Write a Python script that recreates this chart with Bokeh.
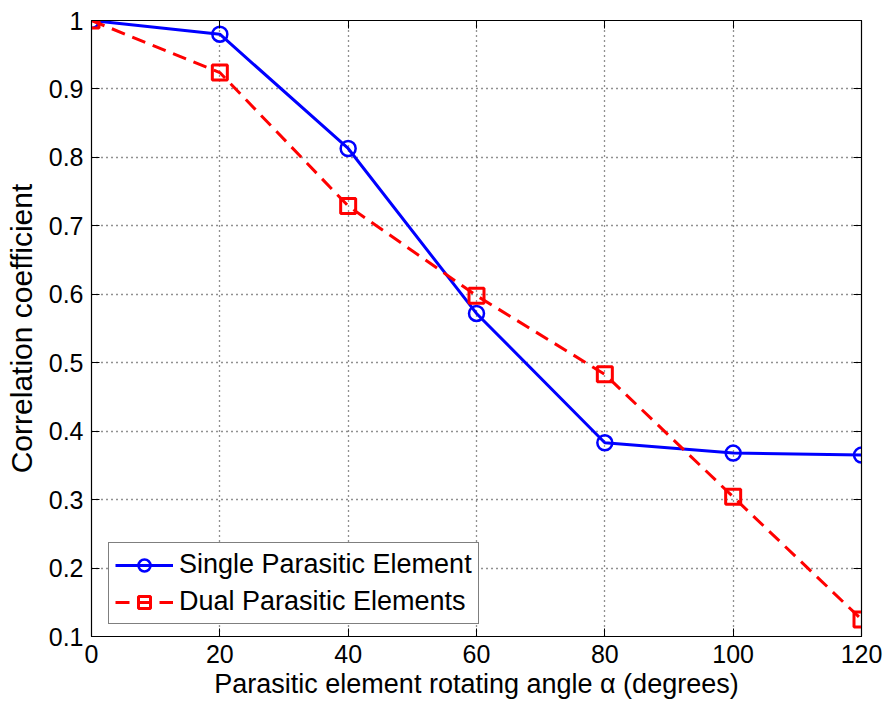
from bokeh.plotting import figure
from bokeh.models import (LinearAxis, FixedTicker, Legend, LegendItem,
                          CustomJSTickFormatter, Range1d)
from bokeh.embed import file_html
from bokeh.resources import INLINE

angles = [0, 20, 40, 60, 80, 100, 120]
single = [1.0, 0.980, 0.813, 0.572, 0.383, 0.368, 0.365]
dual = [1.0, 0.924, 0.729, 0.598, 0.483, 0.304, 0.125]
x_ticks = [0, 20, 40, 60, 80, 100, 120]
y_ticks = [0.1, 0.2, 0.3, 0.4, 0.5, 0.6, 0.7, 0.8, 0.9, 1.0]

FONT = "Liberation Sans"
FS = "25px"

p = figure(width=887, height=707, output_backend="svg", toolbar_location=None,
           x_range=Range1d(0, 120), y_range=Range1d(0.1, 1.0),
           min_border_left=91, min_border_right=26, min_border_top=20,
           min_border_bottom=71, background_fill_color="white",
           border_fill_color="white")

p.outline_line_color = "black"
p.outline_line_width = 1.2

for ax in (p.xaxis[0], p.yaxis[0]):
    ax.major_tick_in = 8
    ax.major_tick_out = 0
    ax.minor_tick_in = 0
    ax.minor_tick_out = 0
    ax.axis_line_color = "black"
    ax.major_tick_line_color = "black"
    ax.major_label_text_font = FONT
    ax.major_label_text_font_size = FS
    ax.major_label_text_color = "black"
    ax.axis_label_text_font = FONT
    ax.axis_label_text_font_style = "normal"
    ax.axis_label_text_color = "black"

p.xaxis[0].axis_label_text_font_size = "27px"
p.yaxis[0].axis_label_text_font_size = "30px"
p.xaxis[0].ticker = FixedTicker(ticks=x_ticks)
p.yaxis[0].ticker = FixedTicker(ticks=y_ticks)
p.yaxis[0].formatter = CustomJSTickFormatter(
    code="var s = tick.toFixed(1); return s == '1.0' ? '1' : s;")
p.xaxis[0].major_label_standoff = 8
p.yaxis[0].major_label_standoff = 8
p.xaxis[0].axis_label = "Parasitic element rotating angle \u03b1 (degrees)"
p.yaxis[0].axis_label = "Correlation coefficient"
p.xaxis[0].axis_label_standoff = 3
p.yaxis[0].axis_label_standoff = 8

right = LinearAxis(ticker=FixedTicker(ticks=y_ticks), major_tick_in=8,
                   major_tick_out=0, minor_tick_in=0, minor_tick_out=0,
                   major_label_text_color=None, axis_line_color="black")
top = LinearAxis(ticker=FixedTicker(ticks=x_ticks), major_tick_in=8,
                 major_tick_out=0, minor_tick_in=0, minor_tick_out=0,
                 major_label_text_color=None, axis_line_color="black")
p.add_layout(right, "right")
p.add_layout(top, "above")

p.xgrid.ticker = FixedTicker(ticks=x_ticks)
p.ygrid.ticker = FixedTicker(ticks=y_ticks)
for g in (p.xgrid[0], p.ygrid[0]):
    g.grid_line_color = "#222222"
    g.grid_line_dash = "1 4"
    g.grid_line_width = 1.3

l1 = p.line(angles, single, line_color="blue", line_width=3)
m1 = p.scatter(angles, single, marker="circle", size=15, fill_color=None,
               line_color="blue", line_width=2.5)
l2 = p.line(angles, dual, line_color="red", line_width=3, line_dash="14 8")
m2 = p.scatter(angles, dual, marker="square", size=15, fill_color=None,
               line_color="red", line_width=3)

legend = Legend(items=[
    LegendItem(label="Single Parasitic Element", renderers=[l1, m1]),
    LegendItem(label="Dual Parasitic Elements", renderers=[l2, m2]),
], location=(17, 12))
legend.label_text_font = FONT
legend.label_text_font_size = "27px"
legend.label_text_color = "black"
legend.glyph_width = 58
legend.glyph_height = 30
legend.label_height = 30
legend.spacing = 6
legend.padding = 6
legend.margin = 0
legend.label_standoff = 6
legend.border_line_color = "black"
legend.border_line_width = 1.2
legend.background_fill_color = "white"
legend.background_fill_alpha = 1.0
p.add_layout(legend, "center")

open("out.html", "w").write(file_html(p, INLINE))
